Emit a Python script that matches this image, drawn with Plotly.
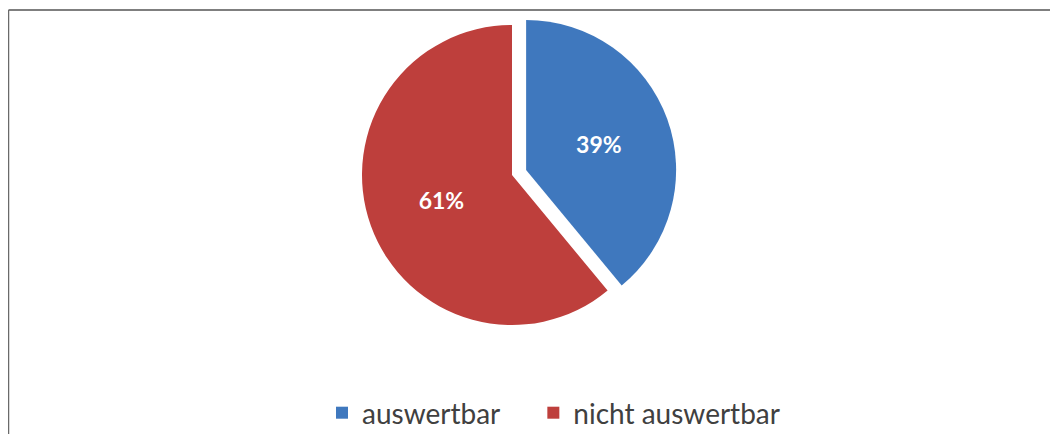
import plotly.graph_objects as go

labels = ["auswertbar", "nicht auswertbar"]
values = [39, 61]
colors = ["#3F78BE", "#BE3F3C"]
pulls = [0.1, 0]

W, H = 1058, 434
OFF = 8  # page body margin offset

def px_x(x):
    return (x - OFF) / W

def px_y(y):
    return 1 - (y - OFF) / H

# legend spacing: pad entries with non-breaking spaces (last one unpadded)
legend_labels = [lab + ("\u00a0" * 4 if i < len(labels) - 1 else "") for i, lab in enumerate(labels)]

fig = go.Figure(go.Pie(
    labels=legend_labels,
    values=values,
    sort=False,
    direction="clockwise",
    rotation=0,
    pull=pulls,
    marker=dict(colors=colors, line=dict(width=0)),
    texttemplate="%{percent:.0%}",
    textposition="inside",
    insidetextorientation="horizontal",
    textfont=dict(color="white", size=23, family="Lato", weight="bold"),
    domain=dict(x=[px_x(512 - 200), px_x(512 + 200)],
                y=[px_y(340), px_y(10)]),
    hovertemplate="%{label}: %{percent:.0%}<extra></extra>",
))

fig.update_layout(
    width=W, height=H,
    margin=dict(l=0, r=0, t=0, b=0),
    paper_bgcolor="white",
    plot_bgcolor="white",
    showlegend=True,
    legend=dict(orientation="h", x=px_x(322), xanchor="left", y=px_y(413), yanchor="middle",
                font=dict(size=28, family="Lato", color="#404040"),
                itemwidth=30, traceorder="normal"),
    shapes=[
        dict(type="line", xref="paper", yref="paper", x0=px_x(8.5), x1=1, y0=px_y(10), y1=px_y(10),
             line=dict(color="#555555", width=1.5)),
        dict(type="line", xref="paper", yref="paper", x0=px_x(8.5), x1=px_x(8.5), y0=0, y1=px_y(10),
             line=dict(color="#6a6a6a", width=1.5)),
    ],
)

fig.write_html("out.html")
